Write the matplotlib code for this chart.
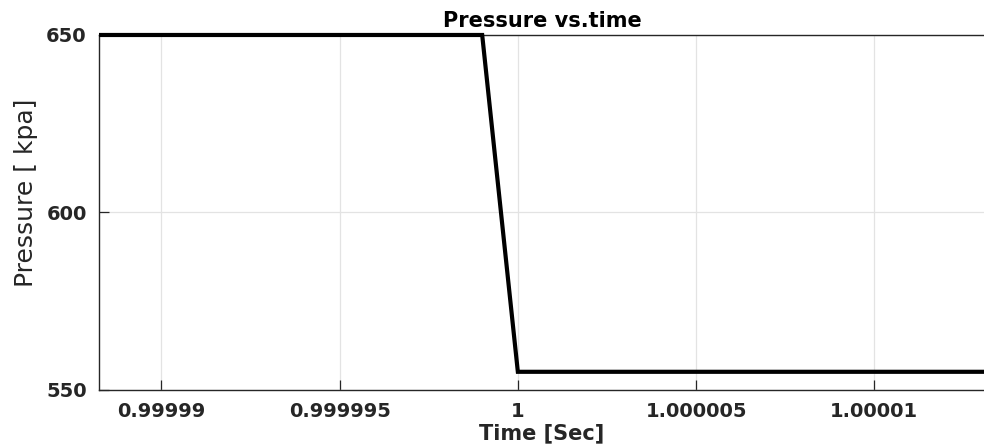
import matplotlib
matplotlib.use("Agg")
import matplotlib.pyplot as plt
from matplotlib import font_manager
from matplotlib.patches import Rectangle

# data: pressure step around t = 1 s
time_s = [0.99998, 0.999999, 1.0, 1.00002]
pressure_kpa = [650, 650, 555, 555]

x_ticks = [0.99999, 0.999995, 1.0, 1.000005, 1.00001]
x_tick_labels = ["0.99999", "0.999995", "1", "1.000005", "1.00001"]
y_ticks = [550, 600, 650]

dark = "#262626"

# narrow font for y label if available
names = {f.name for f in font_manager.fontManager.ttflist}
if "Liberation Sans Narrow" in names:
    ylab_font, ylab_size = "Liberation Sans Narrow", 22
else:
    ylab_font, ylab_size = "DejaVu Sans", 18

fig = plt.figure(figsize=(9.84, 4.44), dpi=100)
ax = fig.add_axes([0.1009, 0.1227, 0.9, 0.7985])

line, = ax.plot(time_s, pressure_kpa, color="black", linewidth=3.0,
                solid_joinstyle="miter", zorder=3)
# let the thick line show fully at the top edge, but not past left/right
clip = Rectangle((0, -0.03), 1, 1.06, transform=ax.transAxes, visible=False)
ax.add_patch(clip)
line.set_clip_path(clip)

ax.set_xlim(0.99998826, 1.0000131)
ax.set_ylim(550, 650)
ax.set_xticks(x_ticks)
ax.set_xticklabels(x_tick_labels)
ax.set_yticks(y_ticks)

ax.grid(True, color="#e3e3e3", linewidth=0.9)
ax.set_axisbelow(True)
ax.tick_params(direction="in", length=7, width=0.9, colors=dark, labelsize=14, pad=9)
for lab in ax.get_xticklabels() + ax.get_yticklabels():
    lab.set_fontweight("bold")
    lab.set_color(dark)

for side in ["left", "bottom", "top"]:
    ax.spines[side].set_color(dark)
    ax.spines[side].set_linewidth(1.0)
ax.spines["right"].set_visible(False)

ax.set_title("Pressure vs.time", fontsize=15, fontweight="bold", color="black", pad=6)
ax.set_xlabel("Time [Sec]", fontsize=15, fontweight="bold", color=dark, labelpad=2)
fig.text(0.026, 0.565, "Pressure [ kpa]", rotation=90, ha="center", va="center",
         fontsize=ylab_size, family=ylab_font, color=dark)

fig.savefig("out.png", dpi=100)
